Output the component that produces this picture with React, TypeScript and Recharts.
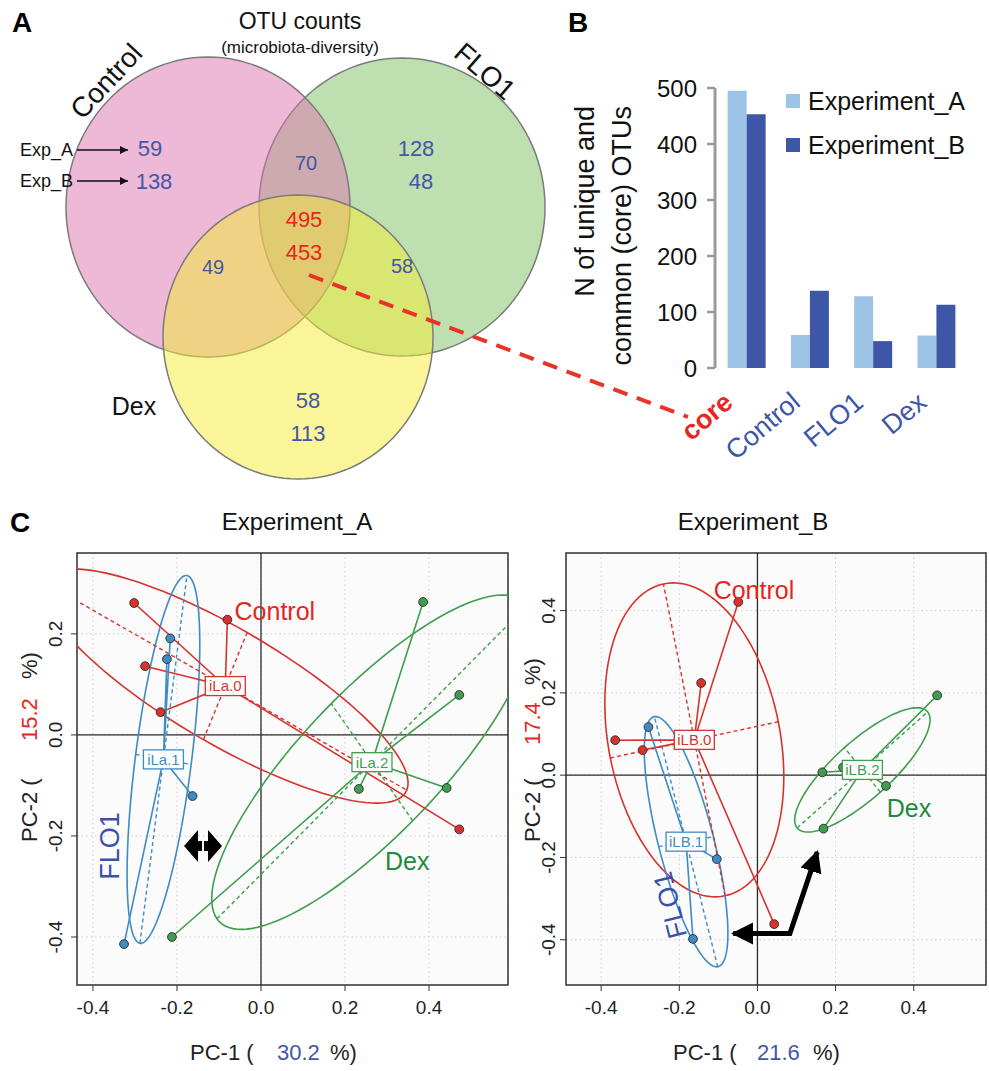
import React from 'react';
import {
  ScatterChart, Scatter, XAxis, YAxis, CartesianGrid, ReferenceArea,
  BarChart, Bar, Legend,
} from 'recharts';

const FONT = "'Liberation Sans', Arial, Helvetica, sans-serif";
type P = { x: number; y: number };

/* ================= DATA ================= */
/* A : Venn, OTU counts per region (Exp_A / Exp_B) */
const vennRegions = ['Control', 'FLO1', 'Dex', 'Control&FLO1', 'Control&Dex', 'FLO1&Dex', 'core'];
const vennExpA = [59, 128, 58, 70, 49, 58, 495];
const vennExpB: (number | null)[] = [138, 48, 113, null, null, null, 453];

/* B : bars */
const barCategories = ['core', 'Control', 'FLO1', 'Dex'];
const barExperimentA = [495, 59, 128, 58];
const barExperimentB = [453, 138, 48, 113];
const barTicks = [0, 100, 200, 300, 400, 500];
const barSeriesNames = ['Experiment_A', 'Experiment_B'];

/* C : PCoA coordinates */
const expA_Control: P[] = [
  { x: -0.302, y: 0.261 }, { x: -0.080, y: 0.228 }, { x: -0.276, y: 0.136 },
  { x: -0.239, y: 0.045 }, { x: 0.472, y: -0.187 },
];
const expA_FLO1: P[] = [
  { x: -0.216, y: 0.191 }, { x: -0.224, y: 0.150 }, { x: -0.163, y: -0.121 }, { x: -0.326, y: -0.414 },
];
const expA_Dex: P[] = [
  { x: 0.386, y: 0.263 }, { x: 0.472, y: 0.079 }, { x: 0.442, y: -0.105 },
  { x: 0.233, y: -0.107 }, { x: -0.212, y: -0.400 },
];
const expB_Control: P[] = [
  { x: -0.049, y: 0.421 }, { x: -0.144, y: 0.224 }, { x: -0.364, y: 0.085 },
  { x: -0.294, y: 0.061 }, { x: 0.043, y: -0.362 },
];
const expB_FLO1: P[] = [
  { x: -0.279, y: 0.117 }, { x: -0.104, y: -0.204 }, { x: -0.165, y: -0.398 },
];
const expB_Dex: P[] = [
  { x: 0.460, y: 0.194 }, { x: 0.166, y: 0.007 }, { x: 0.219, y: 0.019 },
  { x: 0.329, y: -0.026 }, { x: 0.169, y: -0.130 },
];
/* ellipse half-axes (s.class style) */
const ellA_Control = { a: { x: 0.432, y: -0.206 }, b: { x: 0.052, y: 0.106 } };
const ellA_FLO1 = { a: { x: 0.056, y: 0.364 }, b: { x: 0.066, y: -0.010 } };
const ellA_Dex = { a: { x: 0.369, y: 0.310 }, b: { x: -0.097, y: 0.116 } };
const ellB_Control = { a: { x: -0.079, y: 0.379 }, b: { x: 0.215, y: 0.044 } };
const ellB_FLO1 = { a: { x: -0.081, y: 0.304 }, b: { x: 0.070, y: 0.012 } };
const ellB_Dex = { a: { x: 0.167, y: 0.141 }, b: { x: -0.046, y: 0.054 } };
const pcoaXTicks = [-0.4, -0.2, 0, 0.2, 0.4];
const pcoaYTicksA = [-0.4, -0.2, 0, 0.2];
const pcoaYTicksB = [-0.4, -0.2, 0, 0.2, 0.4];

/* ================= STYLE / LAYOUT ================= */
const RED = '#d8322e';
const BLUE = '#3d8cc4';
const GREEN = '#3f9e4d';
const NUM_BLUE = '#4357a8';
const CORE_RED = '#e8261f';

const vennSetNames = ['FLO1', 'Control', 'Dex'];
const vennSetCenter: P[] = [{ x: 402, y: 207 }, { x: 208, y: 207 }, { x: 298, y: 337 }];
const vennSetRadius: P[] = [{ x: 143, y: 149 }, { x: 142, y: 150 }, { x: 135, y: 142 }];
const vennSetFill = ['#7dc161', '#db73ad', '#f3eb31'];
const vennRegionPos: P[] = [
  { x: 150, y: 148 }, { x: 416, y: 148 }, { x: 308, y: 400 }, { x: 306, y: 163 },
  { x: 213, y: 267 }, { x: 402, y: 266 }, { x: 304, y: 219 },
];
const vennRegionFont = [22, 22, 22, 20, 20, 20, 22];

const EmptyShape = () => <g />;

const ellipseOutline = (c: P, a: P, b: P, n = 120): P[] =>
  Array.from({ length: n + 1 }, (_, i) => {
    const t = (2 * Math.PI * i) / n;
    return { x: c.x + a.x * Math.cos(t) + b.x * Math.sin(t), y: c.y + a.y * Math.cos(t) + b.y * Math.sin(t) };
  });
const centroid = (pts: P[]): P => ({
  x: pts.reduce((s, p) => s + p.x, 0) / pts.length,
  y: pts.reduce((s, p) => s + p.y, 0) / pts.length,
});

type Word = { x: number; y: number; text: string; color: string; size: number; weight?: string; rotate?: number; anchor?: string };

const WordShape = (props: any) => {
  const { cx, cy, payload } = props;
  const w: Word = payload;
  return (
    <text
      x={cx} y={cy} dy="0.35em"
      transform={w.rotate ? `rotate(${w.rotate} ${cx} ${cy})` : undefined}
      textAnchor={(w.anchor as any) || 'middle'}
      fontFamily={FONT} fontSize={w.size} fontWeight={w.weight || 'normal'} fill={w.color}
    >
      {w.text}
    </text>
  );
};

/* ================= PANEL A ================= */
function VennPanel() {
  const circles = vennSetNames.map((name, i) => ({
    name,
    fill: vennSetFill[i],
    pts: ellipseOutline(vennSetCenter[i], { x: vennSetRadius[i].x, y: 0 }, { x: 0, y: vennSetRadius[i].y }),
  }));
  const numbers: Word[] = vennRegions.flatMap((r, i) => {
    const pos = vennRegionPos[i];
    const color = r === 'core' ? CORE_RED : NUM_BLUE;
    const out: Word[] = [{ x: pos.x, y: pos.y, text: String(vennExpA[i]), color, size: vennRegionFont[i] }];
    const b = vennExpB[i];
    if (b != null) out.push({ x: pos.x + (r === 'FLO1' ? 5 : r === 'Control' ? 4 : 0), y: pos.y + 33, text: String(b), color, size: vennRegionFont[i] });
    return out;
  });
  const words: Word[] = [
    { x: 22, y: 22, text: 'A', color: '#000', size: 28, weight: 'bold' },
    { x: 578, y: 22, text: 'B', color: '#000', size: 28, weight: 'bold' },
    { x: 300, y: 21, text: 'OTU counts', color: '#111', size: 23 },
    { x: 300, y: 47, text: '(microbiota-diversity)', color: '#111', size: 17 },
    { x: 106, y: 81, text: 'Control', color: '#111', size: 28, rotate: -47 },
    { x: 485, y: 71, text: 'FLO1', color: '#111', size: 28, rotate: 41 },
    { x: 134, y: 406, text: 'Dex', color: '#111', size: 25 },
    { x: 73, y: 150, text: 'Exp_A', color: '#111', size: 18, anchor: 'end' },
    { x: 73, y: 181, text: 'Exp_B', color: '#111', size: 18, anchor: 'end' },
  ];
  return (
    <ScatterChart width={989} height={480} margin={{ top: 0, right: 0, bottom: 0, left: 0 }}>
      <defs>
        <marker id="vennArrow" viewBox="0 0 10 10" refX="10" refY="5" markerWidth="10" markerHeight="8"
          markerUnits="userSpaceOnUse" orient="auto">
          <path d="M0,0 L10,5 L0,10 z" fill="#111" />
        </marker>
      </defs>
      <XAxis type="number" dataKey="x" domain={[0, 989]} allowDataOverflow hide />
      <YAxis type="number" dataKey="y" domain={[0, 480]} allowDataOverflow reversed hide />
      {circles.map((c) => (
        <Scatter key={c.name} data={c.pts} shape={EmptyShape} isAnimationActive={false}
          line={{ fill: c.fill, fillOpacity: 0.5, stroke: '#7b7b7b', strokeWidth: 1.5 }} />
      ))}
      <Scatter data={[{ x: 77, y: 150 }, { x: 128, y: 150 }]} shape={EmptyShape} isAnimationActive={false}
        line={{ stroke: '#111', strokeWidth: 1.6, markerEnd: 'url(#vennArrow)' }} />
      <Scatter data={[{ x: 77, y: 181 }, { x: 128, y: 181 }]} shape={EmptyShape} isAnimationActive={false}
        line={{ stroke: '#111', strokeWidth: 1.6, markerEnd: 'url(#vennArrow)' }} />
      <Scatter data={[{ x: 309, y: 275 }, { x: 688, y: 417 }]} shape={EmptyShape} isAnimationActive={false}
        line={{ stroke: '#e8322a', strokeWidth: 4, strokeDasharray: '15 10' }} />
      <Scatter data={numbers} shape={WordShape} isAnimationActive={false} />
      <Scatter data={words} shape={WordShape} isAnimationActive={false} />
    </ScatterChart>
  );
}

/* ================= PANEL B ================= */
const barData = barCategories.map((cat, i) => ({ cat, A: barExperimentA[i], B: barExperimentB[i] }));
const barColors = ['#9dc3e6', '#3d57a6'];

const CatTick = (props: any) => {
  const { x, y, payload } = props;
  const isCore = payload.value === 'core';
  const ax = x - (isCore ? 12 : 8);
  const ay = y + 29;
  return (
    <text x={ax} y={ay} transform={`rotate(-40 ${ax} ${ay})`} textAnchor="end"
      fontFamily={FONT} fontSize={27} fontWeight={isCore ? 'bold' : 'normal'}
      fill={isCore ? CORE_RED : '#3f55a6'}>
      {payload.value}
    </text>
  );
};

const barYLabel = () => (
  <g fontFamily={FONT} fontSize={27} fill="#111">
    <text transform="rotate(-90)" x={-106} y={34} textAnchor="end">N of unique and</text>
    <text transform="rotate(-90)" x={-106} y={71} textAnchor="end">common (core) OTUs</text>
  </g>
);

const barLegend = () => (
  <div style={{ fontFamily: FONT, fontSize: 25, color: '#111' }}>
    {barSeriesNames.map((n, i) => (
      <div key={n} style={{ display: 'flex', alignItems: 'center', height: 44 }}>
        <span style={{ display: 'inline-block', width: 14, height: 14, background: barColors[i], marginRight: 8 }} />
        <span>{n}</span>
      </div>
    ))}
  </div>
);

function BarPanel() {
  return (
    <BarChart width={429} height={480} data={barData} margin={{ top: 88, right: 21, left: 60, bottom: 0 }}
      barCategoryGap="20%" barGap={0}>
      <XAxis dataKey="cat" axisLine={false} tickLine={false} height={112} tick={CatTick} interval={0} />
      <YAxis type="number" domain={[0, 500]} ticks={barTicks} width={95} allowDataOverflow
        axisLine={{ stroke: '#9a9a9a', strokeWidth: 3 }} tickLine={{ stroke: '#9a9a9a', strokeWidth: 2.5 }}
        tickSize={8} tickMargin={10} tick={{ fontSize: 24, fill: '#111', fontFamily: FONT }} label={barYLabel} />
      <Bar dataKey="A" name={barSeriesNames[0]} fill={barColors[0]} isAnimationActive={false} />
      <Bar dataKey="B" name={barSeriesNames[1]} fill={barColors[1]} isAnimationActive={false} />
      <Legend layout="horizontal" verticalAlign="middle" align="center" content={barLegend}
        wrapperStyle={{ left: 226, top: 79, width: 200 }} />
    </BarChart>
  );
}

/* ================= PANEL C ================= */
type Group = { key: string; color: string; pts: P[]; ell: { a: P; b: P }; tag: string };
type PanelCfg = {
  id: string; width: number; height: number; yAxisWidth: number; marginRight: number; yTickMargin: number;
  xDomain: [number, number]; yDomain: [number, number]; yTicks: number[];
  groups: Group[]; words: Word[];
  arrow?: P[]; doubleArrowAt?: P;
  letter?: boolean; title: string; titleX: number;
  pc1: string; pc1X: number[]; pc2: string; pc2Y: number[]; pc2X: number;
};

const fmt = (v: number) => (Math.abs(v) < 1e-9 ? '0.0' : v.toFixed(1));
const renderXTick = (p: any) => (
  <text x={p.x} y={p.y} dy="0.71em" textAnchor="middle" fontSize={19} fill="#222" fontFamily={FONT}>
    {fmt(p.payload.value)}
  </text>
);
const renderYTick = (p: any) => (
  <text x={p.x} y={p.y} transform={`rotate(-90 ${p.x} ${p.y})`} textAnchor="middle" fontSize={19} fill="#222" fontFamily={FONT}>
    {fmt(p.payload.value)}
  </text>
);

const TagShape = (props: any) => {
  const { cx, cy, payload } = props;
  const w = payload.text.length * 7.4 + 3;
  return (
    <g>
      <rect x={cx - w / 2} y={cy - 9.5} width={w} height={19} fill="#fff" stroke={payload.color} strokeWidth={1.3} />
      <text x={cx} y={cy} dy="0.36em" textAnchor="middle" fontSize={15} fill={payload.color} fontFamily={FONT}>{payload.text}</text>
    </g>
  );
};

/* fat double-headed arrow used as annotation */
const DoubleArrowShape = (props: any) => {
  const { cx, cy } = props;
  const d = [
    `M${cx - 19},${cy} L${cx - 5},${cy - 16} L${cx - 5},${cy - 5} L${cx - 1},${cy - 5} L${cx - 1},${cy + 5} L${cx - 5},${cy + 5} L${cx - 5},${cy + 16} Z`,
    `M${cx + 19},${cy} L${cx + 5},${cy - 16} L${cx + 5},${cy - 5} L${cx + 1},${cy - 5} L${cx + 1},${cy + 5} L${cx + 5},${cy + 5} L${cx + 5},${cy + 16} Z`,
  ].join(' ');
  return <path d={d} fill="#000" />;
};

function PcoaPanel({ cfg }: { cfg: PanelCfg }) {
  const [x0, x1] = cfg.xDomain;
  const [y0, y1] = cfg.yDomain;
  const groups = cfg.groups.map((g) => {
    const c = centroid(g.pts);
    return {
      ...g, c,
      outline: ellipseOutline(c, g.ell.a, g.ell.b),
      major: [{ x: c.x - g.ell.a.x, y: c.y - g.ell.a.y }, { x: c.x + g.ell.a.x, y: c.y + g.ell.a.y }],
      minor: [{ x: c.x - g.ell.b.x, y: c.y - g.ell.b.y }, { x: c.x + g.ell.b.x, y: c.y + g.ell.b.y }],
      spokes: g.pts.flatMap((p) => [p, c]),
    };
  });
  const markerId = `arrow-${cfg.id}`;
  const axisLabel = () => (
    <g fontFamily={FONT}>
      {cfg.letter && <text x={10} y={52} fontSize={28} fontWeight="bold" fill="#000">C</text>}
      <text x={cfg.titleX} y={50} textAnchor="middle" fontSize={24} fill="#111">{cfg.title}</text>
      <text y={580} fontSize={22} fill="#222">
        <tspan x={cfg.pc1X[0]}>PC-1 (</tspan>
        <tspan x={cfg.pc1X[1]} fill={NUM_BLUE}>{cfg.pc1}</tspan>
        <tspan x={cfg.pc1X[2]}>%)</tspan>
      </text>
      <text transform="rotate(-90)" y={cfg.pc2X} fontSize={22} fill="#222">
        <tspan x={-cfg.pc2Y[0]}>PC-2 (</tspan>
        <tspan x={-cfg.pc2Y[1]} fill={CORE_RED}>{cfg.pc2}</tspan>
        <tspan x={-cfg.pc2Y[2]}>%)</tspan>
      </text>
    </g>
  );
  const tags = groups.map((g) => ({ x: g.c.x, y: g.c.y, text: g.tag, color: g.color }));
  return (
    <ScatterChart width={cfg.width} height={cfg.height} margin={{ top: 73, right: cfg.marginRight, bottom: 0, left: 0 }}>
      <defs>
        <marker id={markerId} viewBox="0 0 10 10" refX="9" refY="5" markerWidth={22} markerHeight={27}
          markerUnits="userSpaceOnUse" orient="auto-start-reverse">
          <path d="M0,0 L10,5 L0,10 z" fill="#000" />
        </marker>
      </defs>
      <CartesianGrid fill="#fbfbfb" stroke="#d0d0d0" strokeDasharray="1.5 3" />
      <XAxis type="number" dataKey="x" domain={cfg.xDomain} ticks={pcoaXTicks} allowDataOverflow interval={0}
        axisLine={false} tickLine={{ stroke: '#333' }} tickSize={6} tickMargin={10} height={86}
        tick={renderXTick} label={axisLabel} />
      <YAxis type="number" dataKey="y" domain={cfg.yDomain} ticks={cfg.yTicks} allowDataOverflow interval={0}
        axisLine={false} tickLine={{ stroke: '#333' }} tickSize={6} tickMargin={cfg.yTickMargin}
        width={cfg.yAxisWidth} tick={renderYTick} />
      <ReferenceArea x1={x0} x2={x1} y1={y0} y2={y1} fill="none" fillOpacity={0} stroke="#333" strokeWidth={1.5} />
      <Scatter data={[{ x: x0, y: 0 }, { x: x1, y: 0 }]} shape={EmptyShape} isAnimationActive={false}
        line={{ stroke: '#2a2a2a', strokeWidth: 1.3 }} />
      <Scatter data={[{ x: 0, y: y0 }, { x: 0, y: y1 }]} shape={EmptyShape} isAnimationActive={false}
        line={{ stroke: '#2a2a2a', strokeWidth: 1.3 }} />
      {groups.map((g) => (
        <Scatter key={`${g.key}-ell`} data={g.outline} shape={EmptyShape} isAnimationActive={false}
          line={{ stroke: g.color, strokeWidth: 1.6 }} />
      ))}
      {groups.map((g) => (
        <Scatter key={`${g.key}-maj`} data={g.major} shape={EmptyShape} isAnimationActive={false}
          line={{ stroke: g.color, strokeWidth: 1.4, strokeDasharray: '4 3' }} />
      ))}
      {groups.map((g) => (
        <Scatter key={`${g.key}-min`} data={g.minor} shape={EmptyShape} isAnimationActive={false}
          line={{ stroke: g.color, strokeWidth: 1.4, strokeDasharray: '4 3' }} />
      ))}
      {groups.map((g) => (
        <Scatter key={`${g.key}-spk`} data={g.spokes} shape={EmptyShape} isAnimationActive={false}
          line={{ stroke: g.color, strokeWidth: 1.6 }} />
      ))}
      {groups.map((g) => (
        <Scatter key={`${g.key}-pts`} data={g.pts} isAnimationActive={false}
          shape={(p: any) => <circle cx={p.cx} cy={p.cy} r={4.4} fill={g.color} stroke="#2b2b2b" strokeWidth={0.9} />} />
      ))}
      <Scatter data={tags} shape={TagShape} isAnimationActive={false} />
      <Scatter data={cfg.words} shape={WordShape} isAnimationActive={false} />
      {cfg.arrow && (
        <Scatter data={cfg.arrow} shape={EmptyShape} isAnimationActive={false}
          line={{ stroke: '#000', strokeWidth: 5, fill: 'none', markerStart: `url(#${markerId})`, markerEnd: `url(#${markerId})` }} />
      )}
      {cfg.doubleArrowAt && (
        <Scatter data={[cfg.doubleArrowAt]} shape={DoubleArrowShape} isAnimationActive={false} />
      )}
    </ScatterChart>
  );
}

const cfgA: PanelCfg = {
  id: 'A', width: 520, height: 591, yAxisWidth: 77, marginRight: 12, yTickMargin: 9,
  xDomain: [-0.438, 0.588], yDomain: [-0.495, 0.36], yTicks: pcoaYTicksA,
  groups: [
    { key: 'Control', color: RED, pts: expA_Control, ell: ellA_Control, tag: 'iLa.0' },
    { key: 'FLO1', color: BLUE, pts: expA_FLO1, ell: ellA_FLO1, tag: 'iLa.1' },
    { key: 'Dex', color: GREEN, pts: expA_Dex, ell: ellA_Dex, tag: 'iLa.2' },
  ],
  words: [
    { x: 0.033, y: 0.245, text: 'Control', color: '#e3261f', size: 25 },
    { x: 0.348, y: -0.251, text: 'Dex', color: '#1f8a3c', size: 25 },
    { x: -0.36, y: -0.22, text: 'FLO1', color: '#3b4fae', size: 27, rotate: -90 },
  ],
  doubleArrowAt: { x: -0.138, y: -0.22 },
  letter: true, title: 'Experiment_A', titleX: 297,
  pc1: '30.2', pc1X: [190, 277, 330], pc2: '15.2', pc2Y: [362, 261, 199], pc2X: 37,
};

const cfgB: PanelCfg = {
  id: 'B', width: 469, height: 591, yAxisWidth: 46, marginRight: 3, yTickMargin: 5,
  xDomain: [-0.49, 0.585], yDomain: [-0.51, 0.54], yTicks: pcoaYTicksB,
  groups: [
    { key: 'Control', color: RED, pts: expB_Control, ell: ellB_Control, tag: 'iLB.0' },
    { key: 'FLO1', color: BLUE, pts: expB_FLO1, ell: ellB_FLO1, tag: 'iLB.1' },
    { key: 'Dex', color: GREEN, pts: expB_Dex, ell: ellB_Dex, tag: 'iLB.2' },
  ],
  words: [
    { x: -0.009, y: 0.45, text: 'Control', color: '#e3261f', size: 25 },
    { x: 0.388, y: -0.08, text: 'Dex', color: '#1f8a3c', size: 25 },
    { x: -0.224, y: -0.316, text: 'FLO1', color: '#3b4fae', size: 27, rotate: -104 },
  ],
  arrow: [{ x: -0.062, y: -0.385 }, { x: 0.083, y: -0.385 }, { x: 0.153, y: -0.187 }],
  title: 'Experiment_B', titleX: 233,
  pc1: '21.6', pc1X: [153, 237, 293], pc2: '17.4', pc2Y: [362, 265, 205], pc2X: 20,
};

export default function App() {
  return (
    <div style={{ position: 'absolute', left: 0, top: 0, width: 989, height: 1071, background: '#fff', overflow: 'hidden', fontFamily: FONT }}>
      <div style={{ position: 'absolute', left: 0, top: 0 }}><VennPanel /></div>
      <div style={{ position: 'absolute', left: 560, top: 0 }}><BarPanel /></div>
      <div style={{ position: 'absolute', left: 0, top: 480 }}><PcoaPanel cfg={cfgA} /></div>
      <div style={{ position: 'absolute', left: 520, top: 480 }}><PcoaPanel cfg={cfgB} /></div>
    </div>
  );
}
